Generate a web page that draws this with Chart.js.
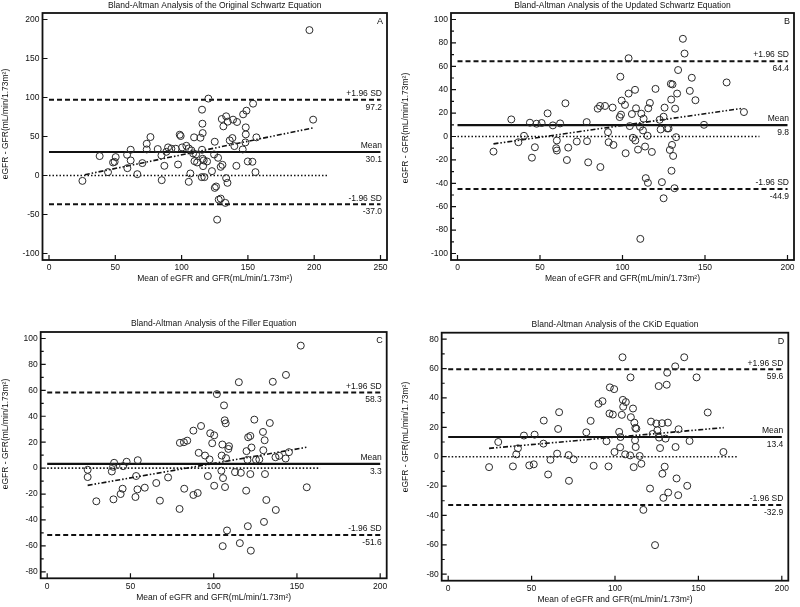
<!DOCTYPE html>
<html>
<head>
<meta charset="utf-8">
<script src="https://cdn.jsdelivr.net/npm/chart.js@4"></script>
<style>
  body { margin: 0; background: #fff; }
  #wrap { position: relative; width: 800px; height: 607px; }
  canvas { position: absolute; }
</style>
</head>
<body>
<div id="wrap">
  <canvas id="chartA" width="400" height="300" style="left:0;top:0"></canvas>
  <canvas id="chartB" width="400" height="300" style="left:400px;top:0"></canvas>
  <canvas id="chartC" width="400" height="307" style="left:0;top:300px"></canvas>
  <canvas id="chartD" width="400" height="307" style="left:400px;top:300px"></canvas>
</div>
<script>
// titles
const titleA = 'Bland-Altman Analysis of the Original Schwartz Equation';
const titleB = 'Bland-Altman Analysis of the Updated Schwartz Equation';
const titleC = 'Bland-Altman Analysis of the Filler Equation';
const titleD = 'Bland-Altman Analysis of the CKiD Equation';
const xTitle = 'Mean of eGFR and GFR(mL/min/1.73m\u00B2)';
const yTitle = 'eGFR - GFR(mL/min/1.73m\u00B2)';

// [mean of eGFR and GFR, eGFR - GFR]
const aPoints = [[25.2,-6.9],[38.2,24.9],[44.5,4.3],[48.3,16.7],[50.3,23.6],[49.5,17.5],[58.9,26.6],[59.1,9.4],[61.6,33],[61.6,19.3],
  [66.6,1.7],[70.4,15.9],[73.7,40.7],[73.7,33.4],[76.5,49.3],[82,33.9],[84.8,25.7],[85,-6],[87,12.4],[88.5,30.4],
  [89.8,36],[92.3,34.3],[95.6,34.3],[97.3,14.1],[98.6,52.3],[99.3,50.6],[100.4,36],[103.6,38.1],[105.4,34.7],[105.4,-8.1],
  [106.6,2.6],[107.4,32.1],[108.7,28.3],[109.4,48.9],[109.7,18.4],[110.9,27],[111.7,16.7],[114.2,48.4],[115.2,-2.1],[115.4,84.4],
  [115.7,66.4],[115.9,54.4],[115.4,33],[115.9,21.4],[116.2,12],[116.7,19.3],[117.2,-2.1],[119.2,18],[120.2,98.6],[122.9,5.6],
  [124.5,27],[125,43.3],[125,-15.9],[126,-14.1],[126.8,-56.6],[127.5,22.7],[128,-30.9],[129.5,-29.6],[129.5,11.1],[130.3,72.4],
  [130.8,13.7],[131.5,63],[133,-35.1],[133.6,75.9],[133.6,-3.4],[134.6,-9.4],[134.8,69],[136.3,45],[138.3,48],[138.8,71.6],
  [139.8,37.7],[141.3,12.4],[141.8,68.6],[146.1,33.4],[146.4,78.4],[148.1,42.4],[148.4,52.7],[148.4,61.7],[148.9,83.1],[149.9,18],
  [153.4,17.6],[153.9,92.1],[155.7,4.3],[156.4,48.9],[196.4,186.4],[199.2,71.6]];
const bPoints = [[21.8,-12.9],[32.6,14.6],[36.9,-4.9],[40.3,0.6],[43.9,11.8],[45.1,-18.1],[46.9,-9.2],[47.9,10.9],[51,11.5],[54.6,19.8],
  [57.8,9.5],[59.8,-10],[60.2,-3.4],[60.2,-12],[62.2,11.2],[65.4,28.4],[66.3,-20.1],[67.1,-9.5],[72.3,-4.3],[78.3,12.3],
  [78.5,-4],[79.2,-22.1],[85,23.8],[86.4,26.1],[86.6,-26.1],[89.4,26.1],[91.2,3.7],[91.6,-4.9],[94,24.7],[94.5,-7.2],
  [98.7,51.1],[98.3,16.6],[99.1,18.7],[99.5,30.7],[101.5,27],[101.9,-14.3],[103.7,36.7],[103.7,66.9],[104.4,8.9],[105.7,19.2],
  [106.3,-1.1],[107.6,39.9],[108.2,24.1],[107.8,-3.4],[109.4,-11.2],[110.6,8.3],[111.4,19.5],[112.4,5.2],[112.8,15.2],[113.7,-8.6],
  [114.1,-35.6],[115.2,0.6],[115.4,-39.6],[115.6,24.1],[116.6,28.7],[117.8,-13.2],[120,40.7],[122.5,14.3],[123.1,6],[123.9,-39],
  [124.9,-52.8],[124.9,16.9],[125.5,24.7],[127.1,6.9],[127.9,6.9],[128.7,-11.5],[129.3,45],[129.5,31.6],[129.7,-29.3],[130,-7.2],
  [130.3,44.5],[130.7,-16.6],[131.5,-44.2],[131.9,23.8],[132.5,-0.6],[133.1,36.7],[133.7,56.8],[136.6,83.5],[137.6,70.9],[140.8,39],
  [142,50.2],[144.2,31],[149.4,10],[163.1,46.2],[173.6,20.9],[110.8,-87.5]];
const cPoints = [[24.3,-1.3],[24.3,-6.9],[29.5,-25.6],[38.8,-2.6],[39.6,1],[40.2,4.1],[39.8,-24.1],[44.1,-20],[45.3,-15.9],[45.6,1.5],
  [47.7,4.9],[53,-22.3],[53.4,-6.1],[54.2,-16.4],[54.4,6.1],[58.6,-15.1],[65.5,-11.5],[67.7,-25.1],[72.6,-7.2],[79.5,-31.5],
  [79.7,19.5],[82.1,20],[82.3,-15.9],[84.1,21.2],[87.8,28.9],[87.8,-20.7],[90.4,-19.2],[91,11.8],[92.4,32.5],[94.8,9.7],
  [96.5,-6.1],[97.5,6.7],[97.9,26.9],[99.1,19.2],[100.3,25.3],[100.3,-13.6],[101.9,57.1],[104.6,-2],[104.8,9.7],[105.2,18.2],
  [105.4,-60.2],[105.6,-7.7],[106.2,48.4],[106.6,36.9],[106.8,-14.6],[107.2,34.6],[107.4,7.7],[108,-48.1],[108.8,14.8],[109.2,16.9],
  [112.8,-3.1],[115.1,66.3],[115.7,-57.9],[116.3,-3.6],[119.5,-17.4],[119.7,13.1],[120.3,6.4],[120.5,-44.8],[120.7,23.8],[122,24.8],
  [122,-4.6],[122.3,-63.7],[122.7,15.9],[124.4,37.4],[125.4,6.4],[127.4,6.7],[129.6,27.9],[129.8,13.8],[130.2,-41.5],[130.6,21.5],
  [130.8,-4.6],[131.6,-24.6],[133.7,34.8],[135.5,66.6],[137.3,-32.3],[137.1,8.4],[139.3,9.5],[143.2,7.4],[143.4,71.9],[145.2,12.3],
  [152.3,94.5],[155.9,-14.8]];
const dPoints = [[24.5,-7.1],[30,10],[38.8,-6.6],[40.8,1.6],[41.8,5.7],[45.4,14.4],[48.6,-5.9],[51.3,-5.2],[51.8,15],[57.1,8.9],
  [57.3,24.6],[59.9,-12.1],[61.3,-2.1],[65.3,2.1],[65.9,18.9],[66.5,30.3],[72.2,1.1],[72.4,-16.4],[75.2,-1.8],[82.8,16.6],
  [85.4,24.4],[87.2,-6.2],[90.1,36],[92.5,37.8],[94.9,10.5],[96.1,-6.6],[96.7,29.4],[96.9,47.2],[98.7,28.7],[99.5,46],
  [99.7,3.2],[102.5,16.9],[103.1,6.4],[103.3,13.4],[104.1,28.5],[104.5,67.7],[104.7,38.7],[104.9,34],[106.1,1.6],[106.5,37.2],
  [109.1,0.9],[109.3,54],[109.5,26.9],[110.8,32.8],[111.2,-7.1],[111.6,23.2],[112,11.2],[112.2,19.6],[112.4,6.6],[112.8,19.1],
  [114.8,0.5],[115.8,-4.8],[117,-36.2],[121,-21.7],[121.6,23.9],[122.6,15.5],[124,-60.2],[124.8,22.6],[125.4,18],[126.2,48.1],
  [126.4,13],[127,5.9],[128.2,22.8],[128.4,-11.6],[129,-28],[129.8,-6.8],[130.3,12.3],[131,49],[131.3,57.2],[131.7,23.2],
  [131.9,-24.4],[136.1,61.5],[136.3,6.6],[136.9,-14.8],[137.9,-26.2],[138.1,18.7],[141.5,67.7],[143.3,-19.8],[144.7,10.7],[148.9,54],
  [155.6,30.1],[165,3.2]];

// [+1.96 SD, mean, -1.96 SD]
const aLimits = [97.2, 30.1, -37.0];
const bLimits = [64.4, 9.8, -44.9];
const cLimits = [58.3, 3.3, -51.6];
const dLimits = [59.6, 13.4, -32.9];

// end of the dotted zero line
const aZeroEnd = 210;
const bZeroEnd = 183;
const cZeroEnd = 164;
const dZeroEnd = 174;

// regression line ends [x1, y1, x2, y2]
const aReg = [27, 1, 199, 61];
const bReg = [21.8, -6.3, 172.8, 24.1];
const cReg = [24.3, -13.3, 155.9, 16.1];
const dReg = [24.5, 5.7, 165.2, 19.8];

// tick labels
const aXTicks = [0, 50, 100, 150, 200, 250];
const aYTicks = [-100, -50, 0, 50, 100, 150, 200];
const bXTicks = [0, 50, 100, 150, 200];
const bYTicks = [-100, -80, -60, -40, -20, 0, 20, 40, 60, 80, 100];
const cXTicks = [0, 50, 100, 150, 200];
const cYTicks = [-80, -60, -40, -20, 0, 20, 40, 60, 80, 100];
const dXTicks = [0, 50, 100, 150, 200];
const dYTicks = [-80, -60, -40, -20, 0, 20, 40, 60, 80];

const FONT = '"Liberation Sans", Arial, sans-serif';
const INK = '#111';
const PAD = 6.5; // px between the frame and first/last tick

const panels = [
  { id: 'chartA', w: 400, h: 300, title: titleA, letter: 'A', points: aPoints, limits: aLimits, zeroEnd: aZeroEnd, reg: aReg,
    xTicks: aXTicks, yTicks: aYTicks, minor: 0, box: [42.5, 13, 387, 260], titleY: 6, yTitleY: 124 },
  { id: 'chartB', w: 400, h: 300, title: titleB, letter: 'B', points: bPoints, limits: bLimits, zeroEnd: bZeroEnd, reg: bReg,
    xTicks: bXTicks, yTicks: bYTicks, minor: 10, box: [51, 13, 394, 260], titleY: 6, yTitleY: 128 },
  { id: 'chartC', w: 400, h: 307, title: titleC, letter: 'C', points: cPoints, limits: cLimits, zeroEnd: cZeroEnd, reg: cReg,
    xTicks: cXTicks, yTicks: cYTicks, minor: 10, box: [40.7, 32, 386.7, 278.3], titleY: 23.5, yTitleY: 134 },
  { id: 'chartD', w: 400, h: 307, title: titleD, letter: 'D', points: dPoints, limits: dLimits, zeroEnd: dZeroEnd, reg: dReg,
    xTicks: dXTicks, yTicks: dYTicks, minor: 10, box: [41.7, 32.7, 388.3, 280.7], titleY: 25, yTitleY: 137 }
];

function paddedRange(ticks, size) {
  const lo = ticks[0], hi = ticks[ticks.length - 1];
  const perPx = (hi - lo) / (size - 2 * PAD);
  return [lo - PAD * perPx, hi + PAD * perPx];
}

// frame, inward ticks, titles and line labels
const decorPlugin = {
  id: 'decor',
  afterDraw(chart) {
    const p = chart.options.plugins.decor.panel;
    const ctx = chart.ctx;
    const a = chart.chartArea;
    const xs = chart.scales.x, ys = chart.scales.y;
    ctx.save();
    ctx.strokeStyle = INK;
    ctx.fillStyle = INK;

    // frame
    ctx.lineWidth = 1.8;
    ctx.strokeRect(a.left, a.top, a.right - a.left, a.bottom - a.top);

    // ticks pointing inwards
    ctx.lineWidth = 1.2;
    ctx.beginPath();
    p.xTicks.forEach(v => {
      const px = xs.getPixelForValue(v);
      ctx.moveTo(px, a.bottom); ctx.lineTo(px, a.bottom - 5);
    });
    p.yTicks.forEach(v => {
      const py = ys.getPixelForValue(v);
      ctx.moveTo(a.left, py); ctx.lineTo(a.left + 5, py);
    });
    if (p.minor) {
      const lo = p.yTicks[0], hi = p.yTicks[p.yTicks.length - 1];
      for (let v = lo; v <= hi; v += p.minor) {
        if (p.yTicks.includes(v)) continue;
        const py = ys.getPixelForValue(v);
        ctx.moveTo(a.left, py); ctx.lineTo(a.left + 3, py);
      }
    }
    ctx.stroke();

    // chart title
    ctx.font = '8.5px ' + FONT;
    ctx.textAlign = 'center';
    ctx.textBaseline = 'middle';
    ctx.fillText(p.title, (a.left + a.right) / 2, p.titleY);

    // axis titles
    ctx.fillText(xTitle, (a.left + a.right) / 2, a.bottom + 19);
    ctx.save();
    ctx.translate(6, p.yTitleY);
    ctx.rotate(-Math.PI / 2);
    ctx.fillText(yTitle, 0, 0);
    ctx.restore();

    // panel letter
    ctx.font = '9px ' + FONT;
    ctx.textAlign = 'right';
    ctx.fillText(p.letter, a.right - 4, a.top + 9);

    // line labels
    ctx.font = '8.5px ' + FONT;
    const names = ['+1.96 SD', 'Mean', '-1.96 SD'];
    p.limits.forEach((v, i) => {
      const py = ys.getPixelForValue(v);
      ctx.fillText(names[i], a.right - 5, py - 6);
      ctx.fillText(v.toFixed(1), a.right - 5, py + 7.5);
    });
    ctx.restore();
  }
};

function hline(y, x0, x1, width, dash) {
  return {
    data: [{ x: x0, y: y }, { x: x1, y: y }],
    showLine: true, pointRadius: 0, borderColor: INK, borderWidth: width, borderDash: dash, order: 2
  };
}

panels.forEach(p => {
  const [bl, bt, br, bb] = p.box;
  const xr = paddedRange(p.xTicks, br - bl);
  const yr = paddedRange(p.yTicks, bb - bt);
  const x0 = p.xTicks[0], x1 = p.xTicks[p.xTicks.length - 1];

  new Chart(document.getElementById(p.id), {
    type: 'scatter',
    data: {
      datasets: [
        {
          data: p.points.map(d => ({ x: d[0], y: d[1] })),
          pointStyle: 'circle', pointRadius: 3.5, borderWidth: 1,
          borderColor: '#2a2a2a', backgroundColor: 'rgba(255,255,255,0)', order: 1
        },
        hline(p.limits[0], x0, x1, 2, [5, 3]),
        hline(p.limits[1], x0, x1, 2.2, []),
        hline(p.limits[2], x0, x1, 2, [5, 3]),
        hline(0, x0, p.zeroEnd, 1.6, [1.5, 2]),
        {
          data: [{ x: p.reg[0], y: p.reg[1] }, { x: p.reg[2], y: p.reg[3] }],
          showLine: true, pointRadius: 0, borderColor: INK, borderWidth: 1.6,
          borderDash: [5, 2, 1.5, 2, 1.5, 2], order: 2
        }
      ]
    },
    options: {
      responsive: false,
      animation: false,
      layout: { padding: { left: 0, top: bt, right: p.w - br, bottom: 0 } },
      plugins: {
        legend: { display: false },
        tooltip: { enabled: false },
        decor: { panel: p }
      },
      scales: {
        x: {
          type: 'linear', min: xr[0], max: xr[1],
          afterFit: s => { s.height = p.h - bb; },
          afterBuildTicks: s => { s.ticks = p.xTicks.map(v => ({ value: v })); },
          grid: { display: false, drawTicks: false },
          border: { display: false },
          ticks: { font: { size: 8.5, family: FONT }, color: INK, padding: 3, maxRotation: 0, autoSkip: false }
        },
        y: {
          type: 'linear', min: yr[0], max: yr[1],
          afterFit: s => { s.width = bl; },
          afterBuildTicks: s => { s.ticks = p.yTicks.map(v => ({ value: v })); },
          grid: { display: false, drawTicks: false },
          border: { display: false },
          ticks: { font: { size: 8.5, family: FONT }, color: INK, padding: 3, autoSkip: false }
        }
      }
    },
    plugins: [decorPlugin]
  });
});
</script>
</body>
</html>
